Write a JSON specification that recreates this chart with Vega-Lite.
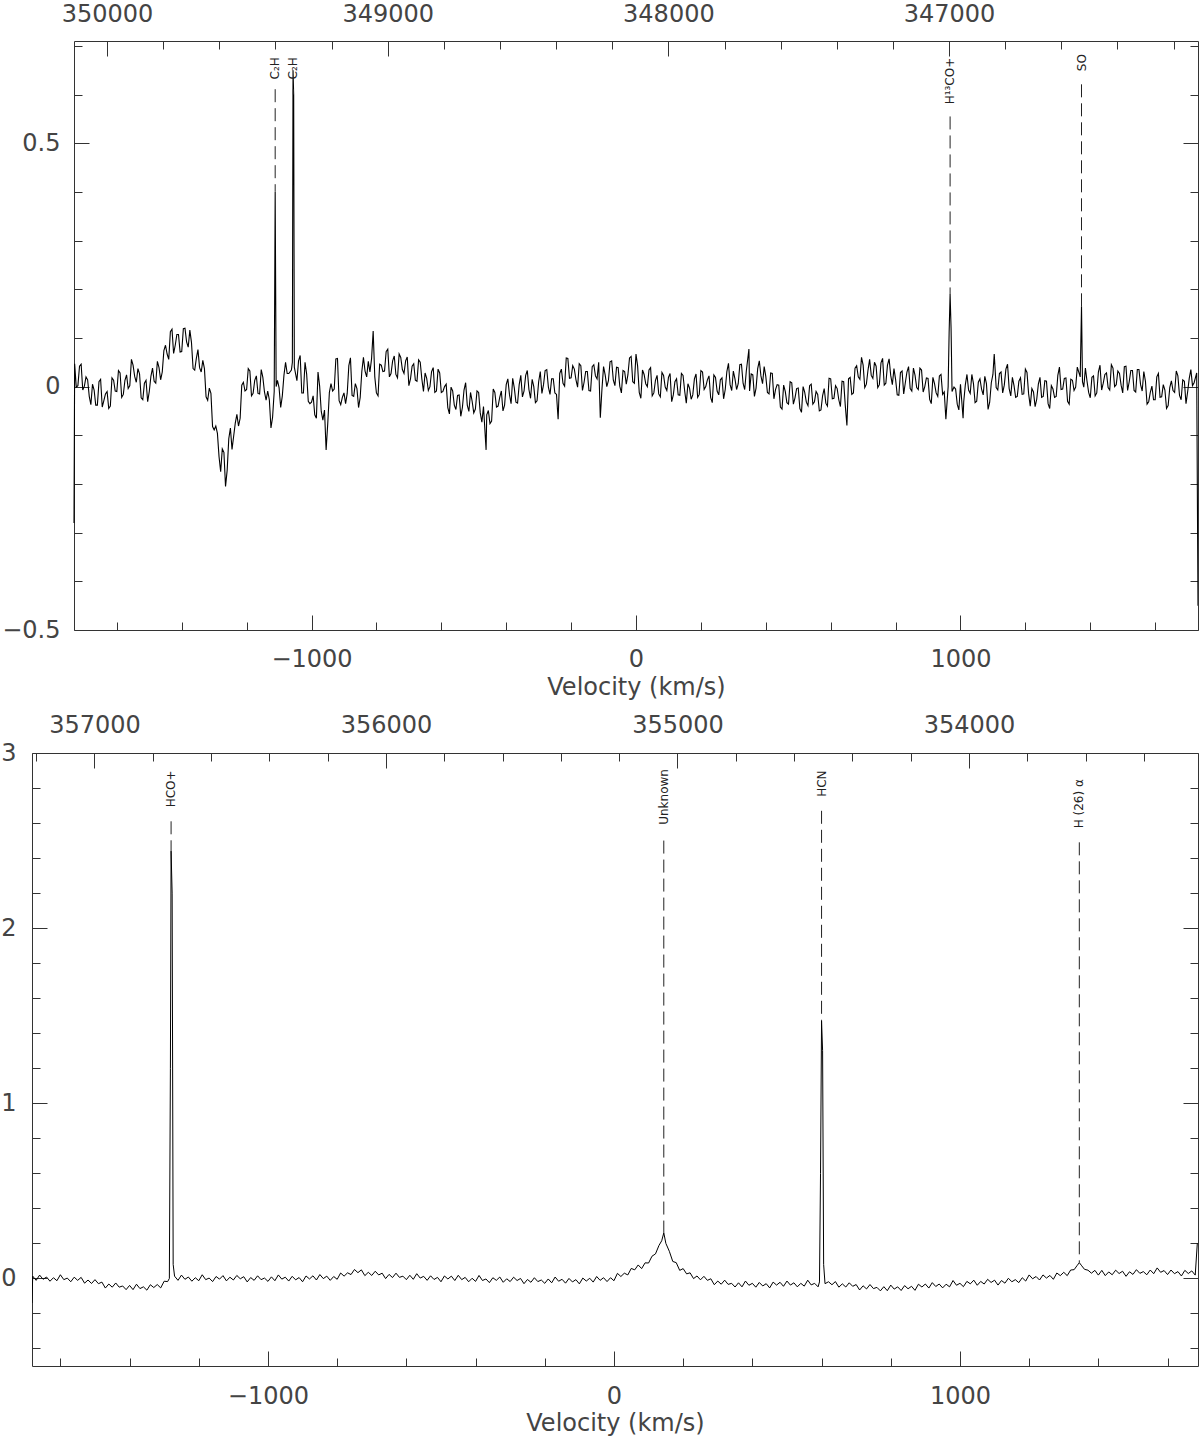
{
"$schema":"https://vega.github.io/schema/vega-lite/v6.json",
"padding":{"left":0,"top":2,"right":2,"bottom":0},
"datasets":{
"top":[{"v":-1732,"t":-0.28},{"v":-1730,"t":0.047},{"v":-1720,"t":0.002},{"v":-1710,"t":0.046},{"v":-1700,"t":0.001},{"v":-1690,"t":0.014},{"v":-1680,"t":-0.037},{"v":-1670,"t":-0.007},{"v":-1660,"t":-0.038},{"v":-1650,"t":0.015},{"v":-1640,"t":-0.029},{"v":-1630,"t":-0.01},{"v":-1620,"t":-0.04},{"v":-1610,"t":0.013},{"v":-1600,"t":-0.01},{"v":-1590,"t":0.028},{"v":-1580,"t":-0.016},{"v":-1570,"t":0.024},{"v":-1560,"t":0.002},{"v":-1550,"t":0.044},{"v":-1540,"t":0.009},{"v":-1530,"t":0.026},{"v":-1520,"t":-0.027},{"v":-1510,"t":0.013},{"v":-1500,"t":-0.01},{"v":-1490,"t":0.038},{"v":-1480,"t":0.007},{"v":-1470,"t":0.039},{"v":-1460,"t":0.03},{"v":-1450,"t":0.085},{"v":-1440,"t":0.056},{"v":-1430,"t":0.118},{"v":-1420,"t":0.085},{"v":-1410,"t":0.107},{"v":-1400,"t":0.072},{"v":-1390,"t":0.12},{"v":-1380,"t":0.081},{"v":-1370,"t":0.091},{"v":-1360,"t":0.034},{"v":-1350,"t":0.076},{"v":-1340,"t":0.03},{"v":-1330,"t":0.037},{"v":-1320,"t":-0.028},{"v":-1310,"t":-0.014},{"v":-1300,"t":-0.089},{"v":-1290,"t":-0.096},{"v":-1280,"t":-0.175},{"v":-1270,"t":-0.135},{"v":-1260,"t":-0.172},{"v":-1250,"t":-0.085},{"v":-1240,"t":-0.102},{"v":-1230,"t":-0.057},{"v":-1220,"t":-0.065},{"v":-1210,"t":0.009},{"v":-1200,"t":-0.006},{"v":-1190,"t":0.032},{"v":-1180,"t":-0.014},{"v":-1170,"t":0.022},{"v":-1160,"t":-0.015},{"v":-1150,"t":0.019},{"v":-1140,"t":-0.028},{"v":-1130,"t":-0.027},{"v":-1120,"t":-0.063},{"v":-1115,"t":-0.01},{"v":-1112,"t":0.40},{"v":-1109,"t":0.0},{"v":-1100,"t":-0.002},{"v":-1090,"t":-0.019},{"v":-1080,"t":0.05},{"v":-1070,"t":0.027},{"v":-1062,"t":0.034},{"v":-1059,"t":0.05},{"v":-1057,"t":0.65},{"v":-1055,"t":0.6},{"v":-1053,"t":0.04},{"v":-1045,"t":0.012},{"v":-1040,"t":0.053},{"v":-1030,"t":-0.013},{"v":-1020,"t":0.05},{"v":-1010,"t":-0.03},{"v":-1000,"t":-0.032},{"v":-990,"t":-0.058},{"v":-980,"t":0.03},{"v":-970,"t":-0.051},{"v":-960,"t":-0.048},{"v":-955,"t":-0.13},{"v":-950,"t":-0.076},{"v":-940,"t":0.006},{"v":-930,"t":-0.005},{"v":-920,"t":0.058},{"v":-910,"t":-0.037},{"v":-900,"t":-0.013},{"v":-890,"t":-0.014},{"v":-880,"t":0.059},{"v":-870,"t":-0.02},{"v":-860,"t":-0.004},{"v":-850,"t":-0.022},{"v":-840,"t":0.06},{"v":-830,"t":0.02},{"v":-820,"t":0.03},{"v":-810,"t":0.114},{"v":-800,"t":-0.013},{"v":-790,"t":0.046},{"v":-780,"t":0.031},{"v":-770,"t":0.072},{"v":-760,"t":0.02},{"v":-750,"t":0.053},{"v":-740,"t":0.025},{"v":-730,"t":0.067},{"v":-720,"t":0.035},{"v":-710,"t":0.053},{"v":-700,"t":0.002},{"v":-690,"t":0.042},{"v":-680,"t":0.013},{"v":-670,"t":0.055},{"v":-660,"t":0.016},{"v":-650,"t":0.028},{"v":-640,"t":-0.008},{"v":-630,"t":0.031},{"v":-620,"t":-0.012},{"v":-610,"t":0.036},{"v":-600,"t":-0.012},{"v":-590,"t":0},{"v":-580,"t":-0.043},{"v":-570,"t":-0.001},{"v":-560,"t":-0.038},{"v":-550,"t":-0.018},{"v":-540,"t":-0.061},{"v":-530,"t":-0.007},{"v":-520,"t":-0.038},{"v":-510,"t":-0.012},{"v":-500,"t":-0.054},{"v":-490,"t":-0.009},{"v":-480,"t":-0.054},{"v":-470,"t":-0.041},{"v":-462,"t":-0.13},{"v":-460,"t":-0.058},{"v":-450,"t":-0.076},{"v":-440,"t":-0.005},{"v":-430,"t":-0.042},{"v":-420,"t":-0.022},{"v":-410,"t":-0.05},{"v":-400,"t":0.004},{"v":-390,"t":-0.016},{"v":-380,"t":0.017},{"v":-370,"t":-0.032},{"v":-360,"t":0.004},{"v":-350,"t":-0.021},{"v":-340,"t":0.023},{"v":-330,"t":-0.006},{"v":-320,"t":0.015},{"v":-310,"t":-0.033},{"v":-300,"t":0.01},{"v":-290,"t":-0.014},{"v":-280,"t":0.033},{"v":-270,"t":-0.001},{"v":-260,"t":0.016},{"v":-250,"t":-0.013},{"v":-240,"t":-0.067},{"v":-230,"t":0.036},{"v":-220,"t":0.001},{"v":-210,"t":0.058},{"v":-200,"t":0.018},{"v":-190,"t":0.036},{"v":-180,"t":-0.001},{"v":-170,"t":0.043},{"v":-160,"t":0.009},{"v":-150,"t":0.031},{"v":-140,"t":-0.009},{"v":-130,"t":0.045},{"v":-120,"t":0.016},{"v":-110,"t":-0.064},{"v":-100,"t":0.041},{"v":-90,"t":0},{"v":-80,"t":0.051},{"v":-70,"t":0.014},{"v":-60,"t":0.04},{"v":-50,"t":0.001},{"v":-40,"t":0.033},{"v":-30,"t":0.005},{"v":-20,"t":0.059},{"v":-10,"t":0.01},{"v":0,"t":0.067},{"v":10,"t":-0.012},{"v":20,"t":0.034},{"v":30,"t":0.006},{"v":40,"t":0.034},{"v":50,"t":-0.019},{"v":60,"t":0.013},{"v":70,"t":-0.015},{"v":80,"t":0.029},{"v":90,"t":-0.001},{"v":100,"t":0.019},{"v":110,"t":-0.031},{"v":120,"t":0.01},{"v":130,"t":-0.017},{"v":140,"t":0.027},{"v":150,"t":-0.009},{"v":160,"t":0.006},{"v":170,"t":-0.026},{"v":180,"t":0.016},{"v":190,"t":-0.022},{"v":200,"t":0.033},{"v":210,"t":-0.006},{"v":220,"t":0.014},{"v":230,"t":-0.022},{"v":240,"t":0.024},{"v":250,"t":-0.009},{"v":260,"t":0.014},{"v":270,"t":-0.025},{"v":280,"t":0.031},{"v":290,"t":0.004},{"v":300,"t":0.032},{"v":310,"t":-0.006},{"v":320,"t":0.045},{"v":330,"t":0.007},{"v":340,"t":0.032},{"v":348,"t":0.077},{"v":350,"t":-0.009},{"v":360,"t":0.024},{"v":370,"t":-0.003},{"v":380,"t":0.053},{"v":390,"t":0.006},{"v":400,"t":0.021},{"v":410,"t":-0.015},{"v":420,"t":0.027},{"v":430,"t":-0.006},{"v":440,"t":0.003},{"v":450,"t":-0.046},{"v":460,"t":-0.01},{"v":470,"t":-0.036},{"v":480,"t":0.008},{"v":490,"t":-0.023},{"v":500,"t":-0.003},{"v":510,"t":-0.053},{"v":520,"t":-0.012},{"v":530,"t":-0.039},{"v":540,"t":0.005},{"v":550,"t":-0.031},{"v":560,"t":-0.016},{"v":570,"t":-0.048},{"v":580,"t":-0.004},{"v":590,"t":-0.04},{"v":600,"t":0.016},{"v":610,"t":-0.024},{"v":620,"t":-0.004},{"v":630,"t":-0.041},{"v":640,"t":0.01},{"v":650,"t":-0.08},{"v":660,"t":0.019},{"v":670,"t":-0.013},{"v":680,"t":0.043},{"v":690,"t":0.015},{"v":700,"t":0.044},{"v":710,"t":0.005},{"v":720,"t":0.056},{"v":730,"t":0.017},{"v":740,"t":0.042},{"v":750,"t":0.004},{"v":760,"t":0.058},{"v":770,"t":0.007},{"v":780,"t":0.057},{"v":790,"t":0.004},{"v":800,"t":0.015},{"v":810,"t":-0.018},{"v":820,"t":0.032},{"v":830,"t":0.008},{"v":840,"t":0.041},{"v":850,"t":-0.009},{"v":860,"t":0.023},{"v":870,"t":-0.006},{"v":880,"t":0.034},{"v":890,"t":0},{"v":900,"t":0.017},{"v":910,"t":-0.035},{"v":920,"t":0.006},{"v":930,"t":-0.02},{"v":940,"t":0.025},{"v":950,"t":-0.011},{"v":955,"t":-0.067},{"v":962,"t":0},{"v":965,"t":0.11},{"v":968,"t":0.19},{"v":971,"t":0.12},{"v":974,"t":-0.01},{"v":980,"t":-0.001},{"v":990,"t":-0.036},{"v":1000,"t":0.005},{"v":1008,"t":-0.065},{"v":1010,"t":-0.031},{"v":1020,"t":0.025},{"v":1030,"t":-0.014},{"v":1040,"t":0.006},{"v":1050,"t":-0.03},{"v":1060,"t":0.016},{"v":1070,"t":-0.017},{"v":1080,"t":0.006},{"v":1090,"t":-0.032},{"v":1100,"t":0.025},{"v":1104,"t":0.067},{"v":1110,"t":-0.002},{"v":1120,"t":0.027},{"v":1130,"t":-0.013},{"v":1140,"t":0.036},{"v":1150,"t":-0.004},{"v":1160,"t":0.019},{"v":1170,"t":-0.022},{"v":1180,"t":0.011},{"v":1190,"t":-0.016},{"v":1200,"t":0.036},{"v":1210,"t":-0.015},{"v":1220,"t":-0.004},{"v":1230,"t":-0.041},{"v":1240,"t":0.005},{"v":1250,"t":-0.022},{"v":1260,"t":0.012},{"v":1270,"t":-0.035},{"v":1280,"t":0.002},{"v":1290,"t":-0.022},{"v":1300,"t":0.023},{"v":1310,"t":-0.006},{"v":1320,"t":0.017},{"v":1330,"t":-0.03},{"v":1340,"t":0.015},{"v":1350,"t":-0.008},{"v":1360,"t":0.04},{"v":1369,"t":0.02},{"v":1373,"t":0.165},{"v":1376,"t":0.01},{"v":1380,"t":-0.001},{"v":1390,"t":0.011},{"v":1400,"t":-0.023},{"v":1410,"t":0.022},{"v":1420,"t":-0.013},{"v":1430,"t":0.044},{"v":1440,"t":0.007},{"v":1450,"t":0.028},{"v":1460,"t":-0.007},{"v":1470,"t":0.038},{"v":1480,"t":0.004},{"v":1490,"t":0.027},{"v":1500,"t":-0.013},{"v":1510,"t":0.042},{"v":1520,"t":0.01},{"v":1530,"t":0.033},{"v":1540,"t":-0.011},{"v":1550,"t":0.035},{"v":1560,"t":-0.009},{"v":1570,"t":0.011},{"v":1580,"t":-0.031},{"v":1590,"t":0.001},{"v":1600,"t":-0.027},{"v":1610,"t":0.027},{"v":1620,"t":-0.021},{"v":1630,"t":-0.007},{"v":1640,"t":-0.039},{"v":1650,"t":0.012},{"v":1660,"t":-0.012},{"v":1670,"t":0.022},{"v":1680,"t":-0.027},{"v":1690,"t":0.011},{"v":1700,"t":-0.011},{"v":1710,"t":0.035},{"v":1720,"t":0.008},{"v":1728,"t":0.028},{"v":1732,"t":-0.45},
{"v":-1725,"t":-0.001},{"v":-1715,"t":0.042},{"v":-1705,"t":-0.007},{"v":-1695,"t":0.02},{"v":-1685,"t":-0.02},{"v":-1675,"t":0.005},{"v":-1665,"t":-0.038},{"v":-1655,"t":0.01},{"v":-1645,"t":-0.042},{"v":-1635,"t":-0.015},{"v":-1625,"t":-0.045},{"v":-1615,"t":0.018},{"v":-1605,"t":-0.009},{"v":-1595,"t":0.033},{"v":-1585,"t":-0.022},{"v":-1575,"t":0.013},{"v":-1565,"t":-0.004},{"v":-1555,"t":0.056},{"v":-1545,"t":0.021},{"v":-1535,"t":0.037},{"v":-1525,"t":-0.023},{"v":-1515,"t":0.007},{"v":-1505,"t":-0.031},{"v":-1495,"t":0.021},{"v":-1485,"t":0.011},{"v":-1475,"t":0.052},{"v":-1465,"t":0.014},{"v":-1455,"t":0.074},{"v":-1445,"t":0.067},{"v":-1435,"t":0.113},{"v":-1425,"t":0.068},{"v":-1415,"t":0.107},{"v":-1405,"t":0.071},{"v":-1395,"t":0.119},{"v":-1385,"t":0.092},{"v":-1375,"t":0.116},{"v":-1365,"t":0.037},{"v":-1355,"t":0.058},{"v":-1345,"t":0.039},{"v":-1335,"t":0.054},{"v":-1325,"t":-0.021},{"v":-1315,"t":-0.003},{"v":-1305,"t":-0.082},{"v":-1295,"t":-0.081},{"v":-1285,"t":-0.144},{"v":-1275,"t":-0.128},{"v":-1265,"t":-0.205},{"v":-1255,"t":-0.107},{"v":-1245,"t":-0.129},{"v":-1235,"t":-0.075},{"v":-1225,"t":-0.081},{"v":-1215,"t":0.003},{"v":-1205,"t":-0.009},{"v":-1195,"t":0.037},{"v":-1185,"t":-0.019},{"v":-1175,"t":0.013},{"v":-1165,"t":-0.014},{"v":-1155,"t":0.035},{"v":-1145,"t":-0.011},{"v":-1135,"t":-0.009},{"v":-1125,"t":-0.085},{"v":-1105,"t":0.013},{"v":-1095,"t":-0.043},{"v":-1085,"t":0.023},{"v":-1075,"t":0.027},{"v":-1035,"t":0.064},{"v":-1025,"t":-0.013},{"v":-1015,"t":0.026},{"v":-1005,"t":-0.035},{"v":-995,"t":-0.019},{"v":-985,"t":-0.065},{"v":-975,"t":0.001},{"v":-965,"t":-0.069},{"v":-945,"t":-0.012},{"v":-935,"t":-0.009},{"v":-925,"t":0.057},{"v":-915,"t":-0.029},{"v":-905,"t":-0.022},{"v":-895,"t":-0.035},{"v":-885,"t":0.043},{"v":-875,"t":-0.018},{"v":-865,"t":0.006},{"v":-855,"t":-0.043},{"v":-845,"t":0.031},{"v":-835,"t":0.032},{"v":-825,"t":0.052},{"v":-815,"t":0.057},{"v":-805,"t":0.02},{"v":-795,"t":-0.019},{"v":-785,"t":0.044},{"v":-775,"t":0.032},{"v":-765,"t":0.077},{"v":-755,"t":0.027},{"v":-745,"t":0.063},{"v":-735,"t":0.018},{"v":-725,"t":0.06},{"v":-715,"t":0.027},{"v":-705,"t":0.061},{"v":-695,"t":0.016},{"v":-685,"t":0.047},{"v":-675,"t":0.011},{"v":-665,"t":0.05},{"v":-655,"t":-0.01},{"v":-645,"t":0.017},{"v":-635,"t":0},{"v":-625,"t":0.039},{"v":-615,"t":-0.009},{"v":-605,"t":0.028},{"v":-595,"t":-0.01},{"v":-585,"t":0.005},{"v":-575,"t":-0.056},{"v":-565,"t":-0.009},{"v":-555,"t":-0.047},{"v":-545,"t":-0.017},{"v":-535,"t":-0.043},{"v":-525,"t":0.008},{"v":-515,"t":-0.051},{"v":-505,"t":-0.03},{"v":-495,"t":-0.046},{"v":-485,"t":-0.012},{"v":-475,"t":-0.073},{"v":-455,"t":-0.049},{"v":-445,"t":-0.071},{"v":-435,"t":-0.012},{"v":-425,"t":-0.04},{"v":-415,"t":-0.009},{"v":-405,"t":-0.038},{"v":-395,"t":0.016},{"v":-385,"t":-0.035},{"v":-375,"t":-0.003},{"v":-365,"t":-0.034},{"v":-355,"t":0.023},{"v":-345,"t":-0.009},{"v":-335,"t":0.033},{"v":-325,"t":-0.024},{"v":-315,"t":0},{"v":-305,"t":-0.029},{"v":-295,"t":0.031},{"v":-285,"t":0.004},{"v":-275,"t":0.035},{"v":-265,"t":-0.016},{"v":-255,"t":0.016},{"v":-245,"t":-0.016},{"v":-235,"t":0.027},{"v":-225,"t":0.007},{"v":-215,"t":0.059},{"v":-205,"t":0.017},{"v":-195,"t":0.043},{"v":-185,"t":0.014},{"v":-175,"t":0.047},{"v":-165,"t":-0.008},{"v":-155,"t":0.031},{"v":-145,"t":-0.008},{"v":-135,"t":0.041},{"v":-125,"t":0.022},{"v":-115,"t":0.05},{"v":-105,"t":-0.006},{"v":-95,"t":0.024},{"v":-85,"t":0.012},{"v":-75,"t":0.053},{"v":-65,"t":0.002},{"v":-55,"t":0.039},{"v":-45,"t":-0.013},{"v":-35,"t":0.031},{"v":-25,"t":0.024},{"v":-15,"t":0.062},{"v":-5,"t":0.007},{"v":5,"t":0.042},{"v":15,"t":-0.024},{"v":25,"t":0.025},{"v":35,"t":0},{"v":45,"t":0.039},{"v":55,"t":-0.013},{"v":65,"t":0.023},{"v":75,"t":-0.021},{"v":85,"t":0.023},{"v":95,"t":-0.008},{"v":105,"t":0.027},{"v":115,"t":-0.017},{"v":125,"t":0.016},{"v":135,"t":-0.018},{"v":145,"t":0.023},{"v":155,"t":-0.034},{"v":165,"t":-0.003},{"v":175,"t":-0.017},{"v":185,"t":0.026},{"v":195,"t":-0.016},{"v":205,"t":0.03},{"v":215,"t":0},{"v":225,"t":0.022},{"v":235,"t":-0.033},{"v":245,"t":0.019},{"v":255,"t":-0.017},{"v":265,"t":0.018},{"v":275,"t":-0.006},{"v":285,"t":0.048},{"v":295,"t":-0.008},{"v":305,"t":0.016},{"v":315,"t":0.006},{"v":325,"t":0.046},{"v":335,"t":-0.006},{"v":355,"t":0.026},{"v":365,"t":-0.02},{"v":375,"t":0.037},{"v":385,"t":0.022},{"v":395,"t":0.041},{"v":405,"t":-0.012},{"v":415,"t":0.028},{"v":425,"t":-0.025},{"v":435,"t":0.004},{"v":445,"t":-0.042},{"v":455,"t":0.003},{"v":465,"t":-0.033},{"v":475,"t":0.01},{"v":485,"t":-0.036},{"v":495,"t":-0.004},{"v":505,"t":-0.045},{"v":515,"t":0},{"v":525,"t":-0.032},{"v":535,"t":0.002},{"v":545,"t":-0.036},{"v":555,"t":-0.01},{"v":565,"t":-0.05},{"v":575,"t":-0.019},{"v":585,"t":-0.034},{"v":595,"t":0.017},{"v":605,"t":-0.025},{"v":615,"t":0.002},{"v":625,"t":-0.027},{"v":635,"t":0.011},{"v":645,"t":-0.039},{"v":655,"t":0.016},{"v":665,"t":-0.016},{"v":675,"t":0.038},{"v":685,"t":0.02},{"v":695,"t":0.06},{"v":705,"t":-0.002},{"v":715,"t":0.034},{"v":725,"t":0.023},{"v":735,"t":0.05},{"v":745,"t":-0.002},{"v":755,"t":0.049},{"v":765,"t":0.003},{"v":775,"t":0.044},{"v":785,"t":0.023},{"v":795,"t":0.037},{"v":805,"t":-0.017},{"v":815,"t":0.029},{"v":825,"t":-0.015},{"v":835,"t":0.03},{"v":845,"t":-0.004},{"v":855,"t":0.038},{"v":865,"t":-0.002},{"v":875,"t":0.038},{"v":885,"t":-0.011},{"v":895,"t":0.018},{"v":905,"t":-0.026},{"v":915,"t":0.019},{"v":925,"t":-0.013},{"v":935,"t":0.022},{"v":945,"t":-0.016},{"v":985,"t":-0.005},{"v":995,"t":-0.048},{"v":1015,"t":0.004},{"v":1025,"t":-0.007},{"v":1035,"t":0.025},{"v":1045,"t":-0.033},{"v":1055,"t":0.009},{"v":1065,"t":-0.005},{"v":1075,"t":0.021},{"v":1085,"t":-0.047},{"v":1095,"t":0.008},{"v":1115,"t":-0.007},{"v":1125,"t":0.03},{"v":1135,"t":0.003},{"v":1145,"t":0.046},{"v":1155,"t":-0.019},{"v":1165,"t":0.002},{"v":1175,"t":-0.02},{"v":1185,"t":0.018},{"v":1195,"t":-0.015},{"v":1205,"t":0.029},{"v":1215,"t":-0.04},{"v":1225,"t":-0.011},{"v":1235,"t":-0.026},{"v":1245,"t":0.019},{"v":1255,"t":-0.02},{"v":1265,"t":0.011},{"v":1275,"t":-0.045},{"v":1285,"t":-0.005},{"v":1295,"t":-0.02},{"v":1305,"t":0.04},{"v":1315,"t":-0.005},{"v":1325,"t":0.018},{"v":1335,"t":-0.036},{"v":1345,"t":0.013},{"v":1355,"t":-0.001},{"v":1385,"t":0.038},{"v":1395,"t":-0.012},{"v":1405,"t":0.019},{"v":1415,"t":-0.019},{"v":1425,"t":0.03},{"v":1435,"t":-0.007},{"v":1445,"t":0.025},{"v":1455,"t":-0.002},{"v":1465,"t":0.045},{"v":1475,"t":0},{"v":1485,"t":0.032},{"v":1495,"t":0.003},{"v":1505,"t":0.041},{"v":1515,"t":-0.008},{"v":1525,"t":0.033},{"v":1535,"t":-0.008},{"v":1545,"t":0.035},{"v":1555,"t":0.004},{"v":1565,"t":0.031},{"v":1575,"t":-0.036},{"v":1585,"t":-0.012},{"v":1595,"t":-0.027},{"v":1605,"t":0.02},{"v":1615,"t":-0.022},{"v":1625,"t":0.004},{"v":1635,"t":-0.045},{"v":1645,"t":-0.002},{"v":1655,"t":-0.008},{"v":1665,"t":0.032},{"v":1675,"t":-0.018},{"v":1685,"t":0.014},{"v":1695,"t":-0.035},{"v":1705,"t":0.017},{"v":1715,"t":0.002}],
"bot":[{"v":-1682,"t":-0.14},{"v":-1680,"t":0.013},{"v":-1670,"t":-0.011},{"v":-1660,"t":0.019},{"v":-1650,"t":-0.005},{"v":-1640,"t":0.008},{"v":-1630,"t":-0.016},{"v":-1620,"t":0.004},{"v":-1610,"t":-0.013},{"v":-1600,"t":0.021},{"v":-1590,"t":-0.007},{"v":-1580,"t":0.002},{"v":-1570,"t":-0.019},{"v":-1560,"t":0.007},{"v":-1550,"t":-0.011},{"v":-1540,"t":0.006},{"v":-1530,"t":-0.027},{"v":-1520,"t":-0.009},{"v":-1510,"t":-0.029},{"v":-1500,"t":-0.007},{"v":-1490,"t":-0.03},{"v":-1480,"t":-0.021},{"v":-1470,"t":-0.055},{"v":-1460,"t":-0.032},{"v":-1450,"t":-0.05},{"v":-1440,"t":-0.026},{"v":-1430,"t":-0.05},{"v":-1420,"t":-0.043},{"v":-1410,"t":-0.064},{"v":-1400,"t":-0.04},{"v":-1390,"t":-0.064},{"v":-1380,"t":-0.033},{"v":-1370,"t":-0.058},{"v":-1360,"t":-0.048},{"v":-1350,"t":-0.067},{"v":-1340,"t":-0.036},{"v":-1330,"t":-0.052},{"v":-1320,"t":-0.035},{"v":-1310,"t":-0.054},{"v":-1300,"t":-0.016},{"v":-1290,"t":-0.018},{"v":-1285,"t":0},{"v":-1282,"t":1.2},{"v":-1280,"t":2.44},{"v":-1277,"t":2.2},{"v":-1274,"t":0.08},{"v":-1270,"t":0.013},{"v":-1260,"t":-0.011},{"v":-1250,"t":0.019},{"v":-1240,"t":-0.005},{"v":-1230,"t":0.008},{"v":-1220,"t":-0.016},{"v":-1210,"t":0.004},{"v":-1200,"t":-0.013},{"v":-1190,"t":0.021},{"v":-1180,"t":-0.007},{"v":-1170,"t":0.002},{"v":-1160,"t":-0.018},{"v":-1150,"t":0.011},{"v":-1140,"t":-0.004},{"v":-1130,"t":0.016},{"v":-1120,"t":-0.014},{"v":-1110,"t":0.007},{"v":-1100,"t":-0.009},{"v":-1090,"t":0.017},{"v":-1080,"t":-0.002},{"v":-1070,"t":0.01},{"v":-1060,"t":-0.02},{"v":-1050,"t":0.005},{"v":-1040,"t":-0.011},{"v":-1030,"t":0.015},{"v":-1020,"t":-0.007},{"v":-1010,"t":0.002},{"v":-1000,"t":-0.017},{"v":-990,"t":0.009},{"v":-980,"t":-0.013},{"v":-970,"t":0.02},{"v":-960,"t":-0.004},{"v":-950,"t":0.007},{"v":-940,"t":-0.015},{"v":-930,"t":0.012},{"v":-920,"t":-0.008},{"v":-910,"t":0.005},{"v":-900,"t":-0.019},{"v":-890,"t":0.014},{"v":-880,"t":-0.003},{"v":-870,"t":0.015},{"v":-860,"t":-0.009},{"v":-850,"t":0.022},{"v":-840,"t":-0.001},{"v":-830,"t":0.013},{"v":-820,"t":-0.011},{"v":-810,"t":0.011},{"v":-800,"t":-0.005},{"v":-790,"t":0.031},{"v":-780,"t":0.013},{"v":-770,"t":0.032},{"v":-760,"t":0.022},{"v":-750,"t":0.051},{"v":-740,"t":0.033},{"v":-730,"t":0.049},{"v":-720,"t":0.016},{"v":-710,"t":0.035},{"v":-700,"t":0.017},{"v":-690,"t":0.041},{"v":-680,"t":0.02},{"v":-670,"t":0.03},{"v":-660,"t":-0.001},{"v":-650,"t":0.023},{"v":-640,"t":0.005},{"v":-630,"t":0.03},{"v":-620,"t":0.006},{"v":-610,"t":0.013},{"v":-600,"t":-0.007},{"v":-590,"t":0.018},{"v":-580,"t":-0.005},{"v":-570,"t":0.027},{"v":-560,"t":0.002},{"v":-550,"t":0.012},{"v":-540,"t":-0.011},{"v":-530,"t":0.015},{"v":-520,"t":-0.006},{"v":-510,"t":0.006},{"v":-500,"t":-0.019},{"v":-490,"t":0.014},{"v":-480,"t":-0.003},{"v":-470,"t":0.013},{"v":-460,"t":-0.012},{"v":-450,"t":0.018},{"v":-440,"t":-0.007},{"v":-430,"t":0.006},{"v":-420,"t":-0.019},{"v":-410,"t":0.001},{"v":-400,"t":-0.017},{"v":-390,"t":0.017},{"v":-380,"t":-0.012},{"v":-370,"t":-0.003},{"v":-360,"t":-0.024},{"v":-350,"t":0.004},{"v":-340,"t":-0.011},{"v":-330,"t":0.008},{"v":-320,"t":-0.022},{"v":-310,"t":-0.002},{"v":-300,"t":-0.018},{"v":-290,"t":0.007},{"v":-280,"t":-0.012},{"v":-270,"t":0},{"v":-260,"t":-0.03},{"v":-250,"t":-0.006},{"v":-240,"t":-0.022},{"v":-230,"t":0.004},{"v":-220,"t":-0.018},{"v":-210,"t":-0.009},{"v":-200,"t":-0.028},{"v":-190,"t":-0.003},{"v":-180,"t":-0.025},{"v":-170,"t":0.008},{"v":-160,"t":-0.016},{"v":-150,"t":-0.005},{"v":-140,"t":-0.027},{"v":-130,"t":0},{"v":-120,"t":-0.02},{"v":-110,"t":-0.007},{"v":-100,"t":-0.031},{"v":-90,"t":0.002},{"v":-80,"t":-0.015},{"v":-70,"t":0.001},{"v":-60,"t":-0.021},{"v":-50,"t":0.011},{"v":-40,"t":-0.011},{"v":-30,"t":0.004},{"v":-20,"t":-0.018},{"v":-10,"t":0.004},{"v":0,"t":-0.013},{"v":10,"t":0.029},{"v":20,"t":0.011},{"v":30,"t":0.03},{"v":40,"t":0.02},{"v":50,"t":0.057},{"v":60,"t":0.049},{"v":70,"t":0.077},{"v":80,"t":0.056},{"v":90,"t":0.089},{"v":100,"t":0.088},{"v":110,"t":0.127},{"v":120,"t":0.14},{"v":130,"t":0.188},{"v":138,"t":0.215},{"v":144,"t":0.26},{"v":150,"t":0.2},{"v":160,"t":0.155},{"v":170,"t":0.097},{"v":180,"t":0.09},{"v":190,"t":0.046},{"v":200,"t":0.056},{"v":210,"t":0.026},{"v":220,"t":0.032},{"v":230,"t":-0.001},{"v":240,"t":0.014},{"v":250,"t":-0.008},{"v":260,"t":0.012},{"v":270,"t":-0.011},{"v":280,"t":-0.002},{"v":290,"t":-0.036},{"v":300,"t":-0.015},{"v":310,"t":-0.033},{"v":320,"t":-0.01},{"v":330,"t":-0.034},{"v":340,"t":-0.028},{"v":350,"t":-0.049},{"v":360,"t":-0.025},{"v":370,"t":-0.048},{"v":380,"t":-0.015},{"v":390,"t":-0.039},{"v":400,"t":-0.028},{"v":410,"t":-0.05},{"v":420,"t":-0.023},{"v":430,"t":-0.043},{"v":440,"t":-0.03},{"v":450,"t":-0.054},{"v":460,"t":-0.021},{"v":470,"t":-0.038},{"v":480,"t":-0.022},{"v":490,"t":-0.045},{"v":500,"t":-0.015},{"v":510,"t":-0.038},{"v":520,"t":-0.025},{"v":530,"t":-0.048},{"v":540,"t":-0.028},{"v":550,"t":-0.044},{"v":560,"t":-0.01},{"v":570,"t":-0.037},{"v":580,"t":-0.028},{"v":590,"t":-0.048},{"v":594,"t":-0.02},{"v":597,"t":0.6},{"v":600,"t":1.47},{"v":603,"t":1.3},{"v":606,"t":0.08},{"v":610,"t":-0.03},{"v":620,"t":-0.019},{"v":630,"t":-0.036},{"v":640,"t":-0.018},{"v":650,"t":-0.05},{"v":660,"t":-0.031},{"v":670,"t":-0.049},{"v":680,"t":-0.025},{"v":690,"t":-0.045},{"v":700,"t":-0.035},{"v":710,"t":-0.066},{"v":720,"t":-0.042},{"v":730,"t":-0.06},{"v":740,"t":-0.035},{"v":750,"t":-0.058},{"v":760,"t":-0.051},{"v":770,"t":-0.071},{"v":780,"t":-0.047},{"v":790,"t":-0.07},{"v":800,"t":-0.038},{"v":810,"t":-0.061},{"v":820,"t":-0.048},{"v":830,"t":-0.069},{"v":840,"t":-0.041},{"v":850,"t":-0.059},{"v":860,"t":-0.045},{"v":870,"t":-0.068},{"v":880,"t":-0.033},{"v":890,"t":-0.049},{"v":900,"t":-0.032},{"v":910,"t":-0.055},{"v":920,"t":-0.024},{"v":930,"t":-0.046},{"v":940,"t":-0.032},{"v":950,"t":-0.054},{"v":960,"t":-0.033},{"v":970,"t":-0.048},{"v":980,"t":-0.012},{"v":990,"t":-0.039},{"v":1000,"t":-0.028},{"v":1010,"t":-0.047},{"v":1020,"t":-0.017},{"v":1030,"t":-0.031},{"v":1040,"t":-0.01},{"v":1050,"t":-0.039},{"v":1060,"t":-0.017},{"v":1070,"t":-0.032},{"v":1080,"t":-0.005},{"v":1090,"t":-0.023},{"v":1100,"t":-0.01},{"v":1110,"t":-0.038},{"v":1120,"t":-0.012},{"v":1130,"t":-0.027},{"v":1140,"t":0.001},{"v":1150,"t":-0.019},{"v":1160,"t":-0.007},{"v":1170,"t":-0.024},{"v":1180,"t":0.004},{"v":1190,"t":-0.015},{"v":1200,"t":0.02},{"v":1210,"t":-0.002},{"v":1220,"t":0.011},{"v":1230,"t":-0.009},{"v":1240,"t":0.02},{"v":1250,"t":0.002},{"v":1260,"t":0.017},{"v":1270,"t":-0.005},{"v":1280,"t":0.031},{"v":1290,"t":0.016},{"v":1300,"t":0.035},{"v":1310,"t":0.016},{"v":1320,"t":0.048},{"v":1330,"t":0.05},{"v":1338,"t":0.072},{"v":1345,"t":0.09},{"v":1352,"t":0.072},{"v":1360,"t":0.052},{"v":1370,"t":0.047},{"v":1380,"t":0.03},{"v":1390,"t":0.046},{"v":1400,"t":0.019},{"v":1410,"t":0.046},{"v":1420,"t":0.016},{"v":1430,"t":0.037},{"v":1440,"t":0.021},{"v":1450,"t":0.047},{"v":1460,"t":0.028},{"v":1470,"t":0.041},{"v":1480,"t":0.012},{"v":1490,"t":0.038},{"v":1500,"t":0.023},{"v":1510,"t":0.05},{"v":1520,"t":0.029},{"v":1530,"t":0.039},{"v":1540,"t":0.021},{"v":1550,"t":0.048},{"v":1560,"t":0.027},{"v":1570,"t":0.06},{"v":1580,"t":0.035},{"v":1590,"t":0.045},{"v":1600,"t":0.022},{"v":1610,"t":0.048},{"v":1620,"t":0.027},{"v":1630,"t":0.039},{"v":1640,"t":0.014},{"v":1650,"t":0.046},{"v":1660,"t":0.028},{"v":1670,"t":0.043},{"v":1680,"t":0.019},{"v":1686,"t":0.2}],
"toplab":[{"name":"C₂H","v":-1112,"top":0.611,"bot":0.40,"ty":0.631},{"name":"C₂H","v":-1056,"top":0.611,"bot":0.60,"ty":0.631},{"name":"H¹³CO+","v":968,"top":0.555,"bot":0.19,"ty":0.58},{"name":"SO","v":1373,"top":0.621,"bot":0.165,"ty":0.648}],
"botlab":[{"name":"HCO+","v":-1280,"top":2.61,"bot":2.44,"ty":2.69},{"name":"Unknown","v":144,"top":2.5,"bot":0.26,"ty":2.59},{"name":"HCN","v":600,"top":2.67,"bot":1.47,"ty":2.75},{"name":"H (26) α","v":1345,"top":2.49,"bot":0.09,"ty":2.57}]
},
"vconcat":[
{"width":1166,"height":589,
 "view":{"stroke":null},
 "resolve":{"axis":{"x":"independent","y":"independent"}},
 "encoding":{
   "x":{"field":"v","type":"quantitative","scale":{"domain":[-1732,1732],"range":[42,1166],"nice":false,"zero":false}}
 },
 "layer":[
    {"data":{"name":"top"},"mark":{"type":"line","color":"#000","strokeWidth":1.1,"clip":true},
     "encoding":{"x":{"field":"v","type":"quantitative","axis":{"orient":"bottom","values":[-1000,0,1000],"format":"d","ticks":false,"domain":true,"labelPadding":36,"labelBaseline":"alphabetic","title":"Velocity (km/s)","titleY":64,"titleBaseline":"alphabetic"}},
      "y":{"field":"t","type":"quantitative","scale":{"domain":[-0.5,0.71],"nice":false,"zero":false},"axis":{"orient":"left","values":[-0.5,0,0.5],"format":"~g","ticks":false,"domain":true,"offset":-42,"labelPadding":14,"title":null}}}},
    {"data":{"name":"toplab"},"mark":{"type":"rule","strokeDash":[13,6],"color":"#222","strokeWidth":1},
     "encoding":{"x":{"field":"v","type":"quantitative","axis":{"orient":"bottom","values":[-1600,-1400,-1200,-800,-600,-400,-200,200,400,600,800,1200,1400,1600],"labels":false,"domain":false,"offset":-8,"tickSize":8,"title":null}},
      "y":{"field":"top","type":"quantitative","axis":{"orient":"left","values":[-0.4,-0.3,-0.2,-0.1,0.1,0.2,0.3,0.4,0.6,0.7],"labels":false,"domain":false,"offset":-50,"tickSize":8,"title":null}},
      "y2":{"field":"bot"}}},
    {"data":{"name":"toplab"},"mark":{"type":"text","angle":270,"align":"left","baseline":"middle","font":"DejaVu Sans","fontSize":12,"color":"#222"},
     "encoding":{"x":{"field":"v","type":"quantitative","axis":{"orient":"bottom","values":[-1000,0,1000],"labels":false,"domain":false,"offset":-15,"tickSize":15,"title":null}},
      "y":{"field":"ty","type":"quantitative","axis":{"orient":"left","values":[-0.5,0,0.5],"labels":false,"domain":false,"offset":-57,"tickSize":15,"title":null}},
      "text":{"field":"name"}}},
    {"data":{"name":"toplab"},"mark":{"type":"point","opacity":0},
     "encoding":{"x":{"field":"v","type":"quantitative","axis":{"orient":"top","values":[-1630.2,-765.2,99.8,964.8],"labelExpr":"format(round((350000 - (datum.value + 1630.2)/0.865)/1000)*1000, 'd')","ticks":false,"domain":true,"labelPadding":20,"labelBaseline":"alphabetic","title":null}},
      "y":{"field":"ty","type":"quantitative","axis":{"orient":"right","values":[-0.4,-0.3,-0.2,-0.1,0.1,0.2,0.3,0.4,0.6,0.7],"labels":false,"domain":false,"offset":-8,"tickSize":8,"title":null}}}},
    {"data":{"name":"toplab"},"mark":{"type":"point","opacity":0},
     "encoding":{"x":{"field":"v","type":"quantitative","axis":{"orient":"top","values":[-1457.2,-1284.2,-1111.2,-938.2,-592.2,-419.2,-246.2,-73.2,272.8,445.8,618.8,791.8,1137.8,1310.8,1483.8,1656.8],"labels":false,"domain":false,"offset":-8,"tickSize":8,"title":null}},
      "y":{"field":"ty","type":"quantitative","axis":{"orient":"right","values":[-0.5,0,0.5],"labels":false,"domain":false,"offset":-15,"tickSize":15,"title":null}}}},
    {"data":{"name":"toplab"},"mark":{"type":"point","opacity":0},
     "encoding":{"x":{"field":"v","type":"quantitative","axis":{"orient":"top","values":[-1630.2,-765.2,99.8,964.8],"labels":false,"domain":false,"offset":-15,"tickSize":15,"title":null}},
      "y":{"field":"ty","type":"quantitative","axis":{"orient":"right","ticks":false,"labels":false,"domain":true,"title":null}}}}
 ]
},
{"width":1166,"height":613,
 "resolve":{"axis":{"x":"independent","y":"independent"}},
 "encoding":{
   "x":{"field":"v","type":"quantitative","scale":{"domain":[-1682,1688],"nice":false,"zero":false}}
 },
 "layer":[
    {"data":{"name":"bot"},"mark":{"type":"line","color":"#000","strokeWidth":1,"clip":true},
     "encoding":{"x":{"field":"v","type":"quantitative","axis":{"orient":"bottom","values":[-1000,0,1000],"format":"d","ticks":false,"domain":false,"labelPadding":37,"labelBaseline":"alphabetic","title":"Velocity (km/s)","titleY":64,"titleBaseline":"alphabetic"}},
      "y":{"field":"t","type":"quantitative","scale":{"domain":[-0.5,3],"nice":false,"zero":false},"axis":{"orient":"left","values":[0,1,2,3],"format":"~g","ticks":false,"domain":false,"labelPadding":16,"title":null}}}},
    {"data":{"name":"botlab"},"mark":{"type":"rule","strokeDash":[13,6],"color":"#222","strokeWidth":1},
     "encoding":{"x":{"field":"v","type":"quantitative","axis":{"orient":"bottom","values":[-1600,-1400,-1200,-800,-600,-400,-200,200,400,600,800,1200,1400,1600],"labels":false,"domain":false,"offset":-8,"tickSize":8,"title":null}},
      "y":{"field":"top","type":"quantitative","axis":{"orient":"left","values":[-0.4,-0.2,0.2,0.4,0.6,0.8,1.2,1.4,1.6,1.8,2.2,2.4,2.6,2.8],"labels":false,"domain":false,"offset":-8,"tickSize":8,"title":null}},
      "y2":{"field":"bot"}}},
    {"data":{"name":"botlab"},"mark":{"type":"text","angle":270,"align":"left","baseline":"middle","font":"DejaVu Sans","fontSize":12,"color":"#222"},
     "encoding":{"x":{"field":"v","type":"quantitative","axis":{"orient":"bottom","values":[-1000,0,1000],"labels":false,"domain":false,"offset":-15,"tickSize":15,"title":null}},
      "y":{"field":"ty","type":"quantitative","axis":{"orient":"left","values":[0,1,2,3],"labels":false,"domain":false,"offset":-15,"tickSize":15,"title":null}},
      "text":{"field":"name"}}},
    {"data":{"name":"botlab"},"mark":{"type":"point","opacity":0},
     "encoding":{"x":{"field":"v","type":"quantitative","axis":{"orient":"top","values":[-1501.5,-659,183.5,1026],"labelExpr":"format(round((356000 - (datum.value + 659)/0.8425)/1000)*1000, 'd')","ticks":false,"domain":false,"labelPadding":21,"labelBaseline":"alphabetic","title":null}},
      "y":{"field":"ty","type":"quantitative","axis":{"orient":"right","values":[-0.4,-0.2,0.2,0.4,0.6,0.8,1.2,1.4,1.6,1.8,2.2,2.4,2.6,2.8],"labels":false,"domain":false,"offset":-8,"tickSize":8,"title":null}}}},
    {"data":{"name":"botlab"},"mark":{"type":"point","opacity":0},
     "encoding":{"x":{"field":"v","type":"quantitative","axis":{"orient":"top","values":[-1670,-1333,-1164.5,-996,-827.5,-490.5,-322,-153.5,15,352,520.5,689,857.5,1194.5,1363,1531.5],"labels":false,"domain":false,"offset":-8,"tickSize":8,"title":null}},
      "y":{"field":"ty","type":"quantitative","axis":{"orient":"right","values":[0,1,2,3],"labels":false,"domain":false,"offset":-15,"tickSize":15,"title":null}}}},
    {"data":{"name":"botlab"},"mark":{"type":"point","opacity":0},
     "encoding":{"x":{"field":"v","type":"quantitative","axis":{"orient":"top","values":[-1501.5,-659,183.5,1026],"labels":false,"domain":false,"offset":-15,"tickSize":15,"title":null}},
      "y":{"field":"ty","type":"quantitative","axis":null}}}
 ]
}
],
"spacing":13,
"config":{
 "view":{"stroke":"#333","strokeWidth":1},
 "axis":{"labelFont":"DejaVu Sans","labelFontSize":24,"labelColor":"#444","titleFont":"DejaVu Sans","titleFontSize":24,"titleFontWeight":"normal","titleColor":"#444","tickColor":"#333","tickWidth":1,"domainColor":"#333","domainWidth":1,"grid":false,"labelFlush":false,"labelOverlap":false,"labelBound":false}
}
}
